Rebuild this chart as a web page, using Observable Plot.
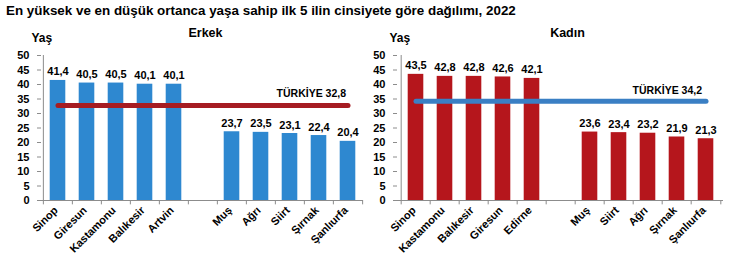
<!DOCTYPE html>
<html>
<head>
<meta charset="utf-8">
<script src="https://cdn.jsdelivr.net/npm/d3@7"></script>
<script src="https://cdn.jsdelivr.net/npm/@observablehq/plot@0.6"></script>
<style>
  body { margin: 0; background: #fff; font-family: "Liberation Sans", Arial, sans-serif; }
  #title { position: absolute; left: 6px; top: 3px; font-size: 13.4px; font-weight: bold; color: #000; white-space: nowrap; }
  #row { position: absolute; left: 0; top: 20px; display: flex; }
  svg { overflow: visible; }
</style>
</head>
<body>
<div id="title">En yüksek ve en düşük ortanca yaşa sahip ilk 5 ilin cinsiyete göre dağılımı, 2022</div>
<div id="row"><div id="left"></div><div id="right"></div></div>
<script>
const yTicks = [0, 5, 10, 15, 20, 25, 30, 35, 40, 45, 50];

const erkekIller = ["Sinop", "Giresun", "Kastamonu", "Balıkesir", "Artvin", " ", "Muş", "Ağrı", "Siirt", "Şırnak", "Şanlıurfa"];
const erkekYas   = [41.4, 40.5, 40.5, 40.1, 40.1, null, 23.7, 23.5, 23.1, 22.4, 20.4];
const turkiyeErkek = 32.8;

const kadinIller = ["Sinop", "Kastamonu", "Balıkesir", "Giresun", "Edirne", " ", "Muş", "Siirt", "Ağrı", "Şırnak", "Şanlıurfa"];
const kadinYas   = [43.5, 42.8, 42.8, 42.6, 42.1, null, 23.6, 23.4, 23.2, 21.9, 21.3];
const turkiyeKadin = 34.2;

const fmt = v => v.toFixed(1).replace(".", ",");

function panel({iller, yas, avg, barColor, lineColor, title, titleDx, width, marginLeft, marginRight, avgDx, avgDy, yasDx}) {
  const height = 252, marginTop = 35, marginBottom = 72;
  const bw = (width - marginLeft - marginRight) / iller.length;
  const data = iller.map((il, i) => ({il, yas: yas[i]})).filter(d => d.yas != null);
  const line = [{il: iller[0], y: avg}, {il: iller[iller.length - 1], y: avg}];
  const gray = "#8c8c8c";
  return Plot.plot({
    width, height, marginLeft, marginRight, marginTop, marginBottom,
    style: {fontFamily: "Liberation Sans, Arial, sans-serif", fontSize: "11px", fontWeight: "bold", color: "#000", background: "#fff"},
    x: {domain: iller, padding: 0, label: null},
    y: {domain: [0, 50], label: null},
    marks: [
      Plot.barY(data, {x: "il", y: "yas", fill: barColor, insetLeft: 6.7, insetRight: 6.7}),
      Plot.ruleY([0], {stroke: gray}),
      Plot.ruleX([iller[0]], {y1: 0, y2: 50, dx: -bw / 2, stroke: gray}),
      Plot.ruleX(iller, {x: d => d, y1: 0, y2: -1.5, dx: -bw / 2, stroke: gray}),
      Plot.ruleX([iller[iller.length - 1]], {y1: 0, y2: -1.5, dx: bw / 2, stroke: gray}),
      Plot.axisY({ticks: yTicks, tickSize: 4, tickPadding: 8, stroke: gray, fill: "#000", fontWeight: "bold", fontSize: 11}),
      Plot.axisX({tickSize: 0, tickRotate: -45, tickPadding: 8, dx: -2, fontWeight: "bold", fontSize: 11, tickFormat: d => d.trim()}),
      Plot.text(data, {x: "il", y: "yas", text: d => fmt(d.yas), lineAnchor: "bottom", dy: -5, fontSize: 11, fontWeight: "bold"}),
      Plot.lineY(line, {x: "il", y: "y", stroke: lineColor, strokeWidth: 5, strokeLinecap: "round"}),
      Plot.text([`TÜRKİYE ${fmt(avg)}`], {x: () => iller[iller.length - 1], y: () => avg, text: d => d, textAnchor: "end", dx: avgDx, dy: avgDy, fontSize: 10.5, fontWeight: "bold"}),
      Plot.text(["Yaş"], {frameAnchor: "top-left", text: d => d, dx: yasDx, dy: -22, textAnchor: "start", fontSize: 12, fontWeight: "bold"}),
      Plot.text([title], {frameAnchor: "top-left", text: d => d, dx: titleDx, dy: -27, textAnchor: "middle", fontSize: 12.5, fontWeight: "bold"})
    ]
  });
}

document.getElementById("left").append(panel({
  iller: erkekIller, yas: erkekYas, avg: turkiyeErkek, barColor: "#2e88d0", lineColor: "#a61c22",
  title: "Erkek", titleDx: 164, width: 372, marginLeft: 41, marginRight: 9, avgDx: -2, avgDy: -12, yasDx: -10
}));
document.getElementById("right").append(panel({
  iller: kadinIller, yas: kadinYas, avg: turkiyeKadin, barColor: "#b5161c", lineColor: "#3a7fc4",
  title: "Kadın", titleDx: 170, width: 377, marginLeft: 25, marginRight: 26, avgDx: -4, avgDy: -11, yasDx: -8
}));
</script>
</body>
</html>
